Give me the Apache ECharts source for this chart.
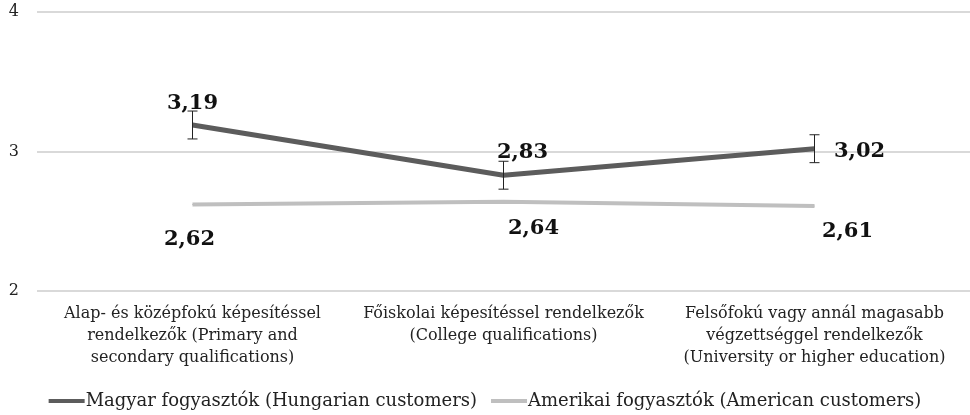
<!DOCTYPE html>
<html>
<head>
<meta charset="utf-8">
<script src="https://cdn.jsdelivr.net/npm/echarts@6/dist/echarts.min.js"></script>
<style>
  html, body { margin: 0; padding: 0; background: #fff; }
  #chart { width: 970px; height: 415px; }
</style>
</head>
<body>
<div id="chart"></div>
<script>
var categories = [
  'Alap- és középfokú képesítéssel\nrendelkezők (Primary and\nsecondary qualifications)',
  'Főiskolai képesítéssel rendelkezők\n(College qualifications)',
  'Felsőfokú vagy annál magasabb\nvégzettséggel rendelkezők\n(University or higher education)'
];
var hungarian = [3.19, 2.83, 3.02];
var hungarianErr = [0.1, 0.1, 0.1];
var american = [2.62, 2.64, 2.61];
var seriesNames = ['Magyar fogyasztók (Hungarian customers)', 'Amerikai fogyasztók (American customers)'];

var serif = 'DejaVu Serif';
var fmt = function (v) { return v.toFixed(2).replace('.', ','); };

var labelFont = { fontFamily: serif, fontWeight: 'bold', fontSize: 21, color: '#111' };

// label placement per point
var huPos = ['top', 'top', 'right'];
var huOff = [[0, 0], [19, -2], [9, 3]];
var amOff = [[-3, 14], [30, 6], [33, 5]];

var huData = hungarian.map(function (v, i) {
  return { value: v, label: { position: huPos[i], offset: huOff[i] } };
});
var amData = american.map(function (v, i) {
  return { value: v, label: { position: 'bottom', offset: amOff[i] } };
});

var errData = hungarian.map(function (v, i) { return [i, v - hungarianErr[i], v + hungarianErr[i]]; });

var chart = echarts.init(document.getElementById('chart'));
chart.setOption({
  animation: false,
  grid: { left: 37, right: 0, top: 12, bottom: 124 },
  legend: {
    bottom: 0,
    left: 'center',
    itemWidth: 36,
    itemHeight: 4,
    itemGap: 14,
    icon: 'rect',
    data: seriesNames,
    textStyle: { fontFamily: serif, fontSize: 18, color: '#222', padding: [0, 0, 0, -4] }
  },
  xAxis: {
    type: 'category',
    data: categories,
    axisLine: { show: false },
    axisTick: { show: false },
    axisLabel: { fontFamily: serif, fontSize: 16, color: '#222', lineHeight: 22, margin: 12, interval: 0 }
  },
  yAxis: {
    type: 'value',
    min: 2,
    max: 4,
    interval: 1,
    axisLabel: { fontFamily: serif, fontSize: 16, color: '#222', margin: 18 },
    splitLine: { lineStyle: { color: '#d9d9d9', width: 2 } }
  },
  series: [
    {
      name: seriesNames[0],
      type: 'line',
      data: huData,
      showSymbol: true,
      symbol: 'circle',
      symbolSize: 1,
      color: '#5c5c5c',
      lineStyle: { width: 5, color: '#5c5c5c' },
      label: Object.assign({ show: true, distance: 10, formatter: function (p) { return fmt(p.value); } }, labelFont),
      z: 3
    },
    {
      name: seriesNames[1],
      type: 'line',
      data: amData,
      showSymbol: true,
      symbol: 'circle',
      symbolSize: 1,
      color: '#bfbfbf',
      lineStyle: { width: 4, color: '#bfbfbf' },
      label: Object.assign({ show: true, distance: 10, formatter: function (p) { return fmt(p.value); } }, labelFont),
      z: 2
    },
    {
      type: 'custom',
      name: 'err',
      data: errData,
      z: 4,
      renderItem: function (params, api) {
        var x = api.value(0);
        var lo = api.coord([x, api.value(1)]);
        var hi = api.coord([x, api.value(2)]);
        var w = 5;
        var st = { stroke: '#222', lineWidth: 1 };
        return {
          type: 'group',
          children: [
            { type: 'line', shape: { x1: lo[0], y1: lo[1], x2: hi[0], y2: hi[1] }, style: st },
            { type: 'line', shape: { x1: lo[0] - w, y1: lo[1], x2: lo[0] + w, y2: lo[1] }, style: st },
            { type: 'line', shape: { x1: hi[0] - w, y1: hi[1], x2: hi[0] + w, y2: hi[1] }, style: st }
          ]
        };
      }
    }
  ]
});
</script>
</body>
</html>
